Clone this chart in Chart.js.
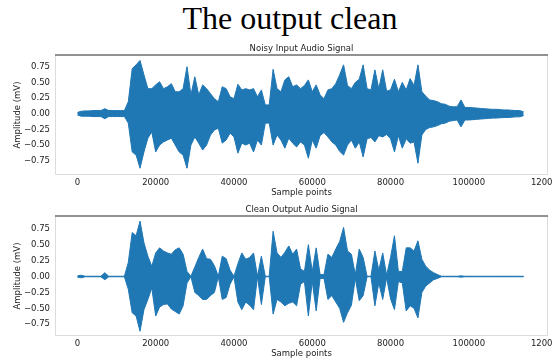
<!DOCTYPE html>
<html>
<head>
<meta charset="utf-8">
<script src="https://cdn.jsdelivr.net/npm/chart.js@4.4.1/dist/chart.umd.min.js"></script>
<style>
  body { margin: 0; background: #fff; width: 552px; height: 361px; overflow: hidden; position: relative; }
  #title { position: absolute; left: 0; top: 2px; width: 580px; text-align: center;
           font: 32px 'Liberation Serif', 'Times New Roman', serif; line-height: 32px; color: #000; }
  canvas { position: absolute; left: 0; }
</style>
</head>
<body>
<div id="title">The output clean</div>
<canvas id="noisyChart" width="552" height="162" style="top:38px"></canvas>
<canvas id="cleanChart" width="552" height="162" style="top:199px"></canvas>
<script>
// envelope of each signal, one max/min pair every 1000 samples
const sampleStep = 1000;

const noisyUpper = [
  0.02, 0.04, 0.045, 0.045, 0.05, 0.05, 0.05, 0.08, 0.05, 0.05,
  0.05, 0.05, 0.05, 0.19, 0.72, 0.78, 0.85, 0.62, 0.40, 0.40,
  0.46, 0.51, 0.40, 0.43, 0.48, 0.35, 0.35, 0.40, 0.75, 0.30,
  0.59, 0.30, 0.46, 0.40, 0.32, 0.24, 0.19, 0.43, 0.40, 0.27,
  0.24, 0.47, 0.38, 0.40, 0.38, 0.40, 0.27, 0.38, 0.14, 0.14,
  0.71, 0.40, 0.35, 0.54, 0.59, 0.43, 0.46, 0.40, 0.45, 0.54,
  0.35, 0.46, 0.30, 0.24, 0.38, 0.40, 0.48, 0.62, 0.78, 0.45,
  0.40, 0.50, 0.55, 0.78, 0.40, 0.38, 0.70, 0.40, 0.70, 0.36,
  0.38, 0.55, 0.35, 0.50, 0.38, 0.56, 0.45, 0.78, 0.35, 0.28,
  0.22, 0.21, 0.19, 0.16, 0.15, 0.12, 0.11, 0.11, 0.22, 0.10,
  0.10, 0.095, 0.09, 0.085, 0.08, 0.075, 0.07, 0.07, 0.065, 0.06,
  0.06, 0.055, 0.05, 0.05, 0.03
];
const noisyLower = [
  -0.02, -0.04, -0.04, -0.04, -0.045, -0.045, -0.045, -0.08, -0.045, -0.045,
  -0.045, -0.045, -0.045, -0.15, -0.61, -0.66, -0.87, -0.61, -0.39, -0.29,
  -0.61, -0.50, -0.45, -0.42, -0.39, -0.50, -0.61, -0.66, -0.87, -0.50,
  -0.37, -0.47, -0.58, -0.50, -0.34, -0.26, -0.23, -0.47, -0.42, -0.31,
  -0.37, -0.63, -0.47, -0.50, -0.47, -0.61, -0.42, -0.50, -0.15, -0.15,
  -0.50, -0.34, -0.42, -0.55, -0.39, -0.47, -0.53, -0.45, -0.50, -0.71,
  -0.42, -0.55, -0.35, -0.30, -0.37, -0.45, -0.50, -0.60, -0.66, -0.50,
  -0.42, -0.55, -0.45, -0.69, -0.40, -0.38, -0.45, -0.35, -0.37, -0.33,
  -0.40, -0.61, -0.35, -0.55, -0.40, -0.47, -0.45, -0.79, -0.34, -0.25,
  -0.22, -0.21, -0.19, -0.16, -0.15, -0.12, -0.11, -0.10, -0.21, -0.10,
  -0.10, -0.095, -0.09, -0.085, -0.08, -0.075, -0.07, -0.07, -0.065, -0.06,
  -0.06, -0.055, -0.05, -0.05, -0.03
];

const cleanUpper = [
  0.01, 0.02, 0.004, 0.004, 0.004, 0.004, 0.004, 0.06, 0.004, 0.004,
  0.004, 0.004, 0.004, 0.22, 0.69, 0.64, 0.87, 0.53, 0.32, 0.16,
  0.37, 0.45, 0.40, 0.37, 0.35, 0.42, 0.45, 0.35, 0.08, 0.004,
  0.15, 0.30, 0.43, 0.28, 0.27, 0.17, 0.004, 0.32, 0.28, 0.10,
  0.004, 0.20, 0.37, 0.27, 0.30, 0.37, 0.004, 0.32, 0.004, 0.004,
  0.71, 0.37, 0.30, 0.38, 0.48, 0.35, 0.43, 0.12, 0.08, 0.50,
  0.08, 0.45, 0.03, 0.03, 0.35, 0.30, 0.43, 0.55, 0.77, 0.40,
  0.35, 0.03, 0.43, 0.30, 0.004, 0.004, 0.40, 0.10, 0.37, 0.02,
  0.30, 0.64, 0.08, 0.08, 0.45, 0.45, 0.40, 0.56, 0.27, 0.16,
  0.10, 0.06, 0.03, 0.004, 0.004, 0.004, 0.004, 0.004, 0.01, 0.004,
  0.004, 0.004, 0.004, 0.004, 0.004, 0.004, 0.004, 0.004, 0.004, 0.004,
  0.004, 0.004, 0.004, 0.004, 0.004
];
const cleanLower = [
  -0.01, -0.02, -0.004, -0.004, -0.004, -0.004, -0.004, -0.05, -0.004, -0.004,
  -0.004, -0.004, -0.004, -0.20, -0.57, -0.62, -0.86, -0.52, -0.36, -0.18,
  -0.62, -0.48, -0.44, -0.43, -0.51, -0.55, -0.59, -0.46, -0.10, -0.004,
  -0.25, -0.30, -0.36, -0.36, -0.30, -0.25, -0.004, -0.36, -0.33, -0.12,
  -0.004, -0.40, -0.52, -0.40, -0.45, -0.52, -0.004, -0.44, -0.004, -0.004,
  -0.59, -0.36, -0.40, -0.46, -0.42, -0.40, -0.46, -0.12, -0.08, -0.62,
  -0.08, -0.54, -0.03, -0.03, -0.36, -0.30, -0.40, -0.50, -0.72, -0.57,
  -0.45, -0.03, -0.38, -0.30, -0.004, -0.004, -0.46, -0.10, -0.36, -0.02,
  -0.35, -0.52, -0.08, -0.10, -0.54, -0.46, -0.50, -0.65, -0.25, -0.15,
  -0.10, -0.05, -0.03, -0.004, -0.004, -0.004, -0.004, -0.004, -0.01, -0.004,
  -0.004, -0.004, -0.004, -0.004, -0.004, -0.004, -0.004, -0.004, -0.004, -0.004,
  -0.004, -0.004, -0.004, -0.004, -0.004
];

const xTicks = [0, 20000, 40000, 60000, 80000, 100000, 120000];
const yTicks = [-0.75, -0.5, -0.25, 0, 0.25, 0.5, 0.75];

const blue = '#1f77b4';
const axisFont = { family: "'DejaVu Sans', sans-serif", size: 8.5 };

// spines, subplot title and axis titles
const framePlugin = {
  id: 'frame',
  afterDraw(chart, args, opts) {
    const { ctx, chartArea: a } = chart;
    ctx.save();
    ctx.strokeStyle = '#dcdcdc';
    ctx.lineWidth = 1;
    ctx.beginPath();
    ctx.moveTo(a.left + 0.5, a.top);
    ctx.lineTo(a.left + 0.5, a.bottom - 0.5);
    ctx.lineTo(a.right - 0.5, a.bottom - 0.5);
    ctx.lineTo(a.right - 0.5, a.top);
    ctx.stroke();
    ctx.strokeStyle = '#6e6e6e';
    ctx.lineWidth = 1.5;
    ctx.beginPath();
    ctx.moveTo(a.left, a.top);
    ctx.lineTo(a.right, a.top);
    ctx.stroke();

    ctx.fillStyle = '#222';
    ctx.font = '8.5px "DejaVu Sans", sans-serif';
    ctx.textAlign = 'center';
    ctx.textBaseline = 'alphabetic';
    const cx = (a.left + a.right) / 2;
    ctx.fillText(opts.title, cx, a.top - 4);
    ctx.fillText('Sample points', cx, a.bottom + 20);
    ctx.translate(18, (a.top + a.bottom) / 2);
    ctx.rotate(-Math.PI / 2);
    ctx.textBaseline = 'middle';
    ctx.fillText('Amplitude (mV)', 0, 0);
    ctx.restore();
  }
};

function toPoints(values) {
  return values.map((v, i) => ({ x: i * sampleStep, y: v }));
}

function makeChart(id, title, upper, lower, yMin, yMax) {
  const line = { borderColor: blue, backgroundColor: blue, borderWidth: 1, pointRadius: 0, tension: 0 };
  return new Chart(document.getElementById(id), {
    type: 'line',
    data: {
      datasets: [
        { ...line, data: toPoints(upper), fill: '+1' },
        { ...line, data: toPoints(lower), fill: false }
      ]
    },
    plugins: [framePlugin],
    options: {
      responsive: false,
      animation: false,
      layout: { padding: { top: 17, right: 4, left: 0, bottom: 0 } },
      plugins: { legend: { display: false }, tooltip: { enabled: false }, frame: { title } },
      scales: {
        x: {
          type: 'linear', min: -5725, max: 120225,
          afterBuildTicks: s => { s.ticks = xTicks.map(v => ({ value: v })); },
          afterFit: s => { s.height = 25; s.paddingLeft = 0; s.paddingRight = 0; },
          grid: { display: false, drawTicks: false },
          border: { display: false },
          ticks: { padding: 3, color: '#222', font: axisFont, maxRotation: 0, autoSkip: false,
                   callback: v => String(v) }
        },
        y: {
          min: yMin, max: yMax,
          afterBuildTicks: s => { s.ticks = yTicks.map(v => ({ value: v })); },
          afterFit: s => { s.width = 55; s.paddingTop = 0; s.paddingBottom = 0; },
          grid: { display: false, drawTicks: false },
          border: { display: false },
          ticks: { padding: 5, color: '#222', font: axisFont, autoSkip: false,
                   callback: v => v.toFixed(2).replace('-', '\u2212') }
        }
      }
    }
  });
}

makeChart('noisyChart', 'Noisy Input Audio Signal', noisyUpper, noisyLower, -0.978, 0.937);
makeChart('cleanChart', 'Clean Output Audio Signal', cleanUpper, cleanLower, -0.934, 0.950);
</script>
</body>
</html>
